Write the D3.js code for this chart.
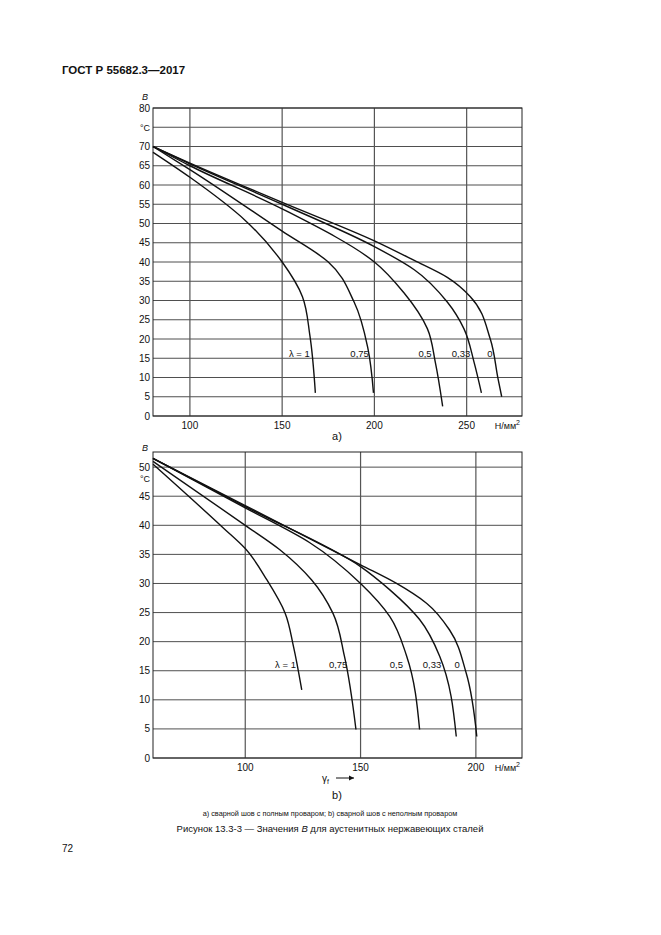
<!DOCTYPE html>
<html><head><meta charset="utf-8">
<script src="https://cdnjs.cloudflare.com/ajax/libs/d3/7.8.5/d3.min.js"></script>
<style>body{margin:0;background:#fff}text{font-family:"Liberation Sans",Arial,sans-serif;fill:#111}</style>
</head><body><svg id="c" width="661" height="935"></svg>
<script>
const seriesNames = ["λ = 1","0,75","0,5","0,33","0"];
const topCurves = [
 [[80,68.5],[100,62],[130,50.8],[150,40],[161,31],[165,21],[168,6]],
 [[80,70],[100,64],[150,48],[175,40],[189,29.6],[196.5,17.5],[199.5,6]],
 [[80,70],[100,65],[150,53.8],[200,40],[216,32],[228.7,22.7],[233,14],[237,2.5]],
 [[80,70],[100,65.5],[150,55],[200,44],[221.6,38],[239.5,29.6],[248.5,22.7],[254,14],[258,6]],
 [[80,70],[100,65.7],[150,55.5],[200,45.5],[221.6,40.4],[239.5,36],[252,31],[262.8,20],[267,9.7],[269,5]]
];
const topLabelX = [165,197,231,252,264];
const botCurves = [
 [[60,50.5],[90.6,39.5],[100,36],[109.4,30.6],[117.3,24.9],[120.9,19.2],[124.5,11.7]],
 [[60,51],[100,40],[115,35.8],[128.8,30.6],[138,24.9],[143,17.5],[148,4.9]],
 [[60,51.5],[100,43],[128,37],[150,30],[162.7,24.3],[170,17.5],[175.6,4.9]],
 [[60,51.5],[100,43.2],[150,32.9],[162.7,28.9],[175.6,23.8],[184.3,17.5],[191.5,3.7]],
 [[60,51.5],[100,43.4],[150,33.2],[165.6,30],[178.6,26.6],[188.6,22],[195.8,14.6],[200.4,3.7]]
];
const botLabelX = [122,144.3,168.4,185,193];
const topXTicks = [100,150,200,250];
const botXTicks = [100,150,200];
const topYTicks = [0,5,10,15,20,25,30,35,40,45,50,55,60,65,70,80];
const botYTicks = [0,5,10,15,20,25,30,35,40,45,50];

const svg = d3.select("#c");
function panel(o){
  const x = d3.scaleLinear().domain(o.xd).range([153,522]);
  const y = d3.scaleLinear().domain(o.yd).range([o.y0,o.y1]);
  const g = svg.append("g");
  d3.range(0,o.yd[1]+0.01,5).forEach(v=>g.append("line").attr("x1",153).attr("x2",522).attr("y1",y(v)).attr("y2",y(v)).attr("stroke","#222").attr("stroke-width",0.8));
  o.xt.forEach(v=>g.append("line").attr("x1",x(v)).attr("x2",x(v)).attr("y1",o.y0).attr("y2",o.y1).attr("stroke","#555").attr("stroke-width",1.2));
  g.append("rect").attr("x",153).attr("y",o.y1).attr("width",369).attr("height",o.y0-o.y1).attr("fill","none").attr("stroke","#222").attr("stroke-width",1);
  const line = d3.line().x(d=>x(d[0])).y(d=>y(d[1])).curve(d3.curveMonotoneY);
  o.curves.forEach(c=>g.append("path").attr("d",line(c)).attr("fill","none").attr("stroke","#111").attr("stroke-width",1.4));
  o.yt.forEach(v=>g.append("text").attr("x",150).attr("y",y(v)+3.5).attr("text-anchor","end").attr("font-size",10).text(v));
  o.xt.forEach(v=>g.append("text").attr("x",x(v)).attr("y",o.y0+13).attr("text-anchor","middle").attr("font-size",10).text(v));
  g.append("text").attr("x",150).attr("y",y(o.cY)+3.5).attr("text-anchor","end").attr("font-size",9).text("°C");
  g.append("text").attr("x",145).attr("y",o.by).attr("text-anchor","middle").attr("font-size",9).attr("font-style","italic").text("B");
  g.append("text").attr("x",520).attr("y",o.y0+13).attr("text-anchor","end").attr("font-size",9).html("Н/мм<tspan dy='-4' font-size='7'>2</tspan>");
  seriesNames.forEach((n,i)=>g.append("text").attr("x",x(o.lx[i])).attr("y",y(o.ly)+4).attr("text-anchor","end").attr("font-size",9.5).text(n));
  return {x,y};
}
panel({xd:[80,280],yd:[0,80],y0:416,y1:108,xt:topXTicks,yt:topYTicks,curves:topCurves,lx:topLabelX,ly:16.3,cY:75,by:100});
panel({xd:[60,220],yd:[0,52.6],y0:758,y1:452,xt:botXTicks,yt:botYTicks,curves:botCurves,lx:botLabelX,ly:16.2,cY:48,by:451});

svg.append("text").attr("x",62).attr("y",74).attr("font-size",11.5).attr("font-weight","bold").text("ГОСТ Р 55682.3—2017");
svg.append("text").attr("x",337).attr("y",440).attr("text-anchor","middle").attr("font-size",11).text("a)");
svg.append("text").attr("x",337).attr("y",799).attr("text-anchor","middle").attr("font-size",11).text("b)");
svg.append("text").attr("x",322).attr("y",782).attr("font-size",10).html("γ<tspan font-size='7' dy='2'>f</tspan>");
svg.append("line").attr("x1",336).attr("x2",354).attr("y1",778).attr("y2",778).attr("stroke","#111");
svg.append("path").attr("d","M354,778 l-5,-2.5 v5 z").attr("fill","#111");
svg.append("text").attr("x",330).attr("y",816).attr("text-anchor","middle").attr("font-size",7.3).text("а) сварной шов с полным проваром; b) сварной шов с неполным проваром");
svg.append("text").attr("x",330).attr("y",832).attr("text-anchor","middle").attr("font-size",9.5).html("Рисунок 13.3-3 — Значения <tspan font-style='italic'>B</tspan> для аустенитных нержавеющих сталей");
svg.append("text").attr("x",62).attr("y",852).attr("font-size",10).text("72");
</script></body></html>
